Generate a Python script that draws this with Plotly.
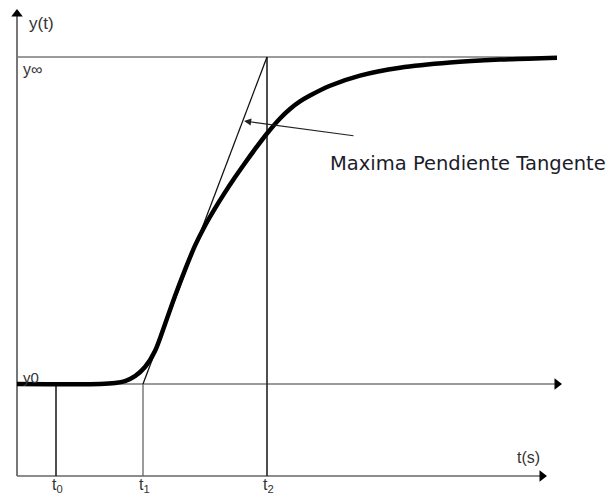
import plotly.graph_objects as go

# ---- data (time axis in drawing units, response normalised: y0 = 0, y_inf = 1)
curve_t = [17, 100, 115, 125, 135, 145, 155, 165, 175, 185, 195, 205, 215, 225,
           235, 245, 255, 267, 280, 290, 300, 310, 330, 360, 400, 450, 500, 557]
curve_y = [0.0, 0.0, 0.003, 0.009, 0.024, 0.052, 0.101, 0.183, 0.269, 0.349,
           0.423, 0.484, 0.537, 0.586, 0.632, 0.676, 0.718, 0.766, 0.812, 0.841,
           0.864, 0.882, 0.912, 0.943, 0.967, 0.983, 0.992, 0.998]
t_marks = {"t0": 56, "t1": 143, "t2": 267}
Y0, YINF = 0.0, 1.0
tick_labels = ["t<sub>0</sub>", "t<sub>1</sub>", "t<sub>2</sub>"]
annotation_text = "Maxima Pendiente Tangente"

# ---- geometry helpers (pixel -> data, layout only)
W, H = 616, 496
PY0, PYINF = 384, 57
def Y(py):
    return (PY0 - py) / (PY0 - PYINF)

X_AXIS = 17
Y_BOTTOM = Y(476)
T0, T1, T2 = t_marks["t0"], t_marks["t1"], t_marks["t2"]

fig = go.Figure()

def line(xs, ys, color, width, dash="solid"):
    fig.add_trace(go.Scatter(x=xs, y=ys, mode="lines",
                             line=dict(color=color, width=width, dash=dash),
                             hoverinfo="skip", showlegend=False))

grey = "#7a7a7a"
# y-axis
line([X_AXIS, X_AXIS], [Y_BOTTOM, Y(12)], "#555555", 1.6)
# bottom time axis
line([X_AXIS, 540], [Y_BOTTOM, Y_BOTTOM], "#666666", 1.6)
# y_inf level
line([X_AXIS, 557], [YINF, YINF], grey, 1.6)
# y0 level (baseline)
line([X_AXIS, 556], [Y0, Y0], grey, 1.6)
# verticals
line([T0, T0], [Y0, Y_BOTTOM], "#222222", 1.6)
line([T1, T1], [Y0, Y_BOTTOM], "#666666", 1.3)
line([T2, T2], [YINF, Y_BOTTOM], "#222222", 1.6)
# tangent
line([T1, T2], [Y0, YINF], "#111111", 1.3)
# response curve
fig.add_trace(go.Scatter(x=curve_t, y=curve_y, mode="lines",
                         line=dict(color="black", width=4.5, shape="spline", smoothing=0.8),
                         hoverinfo="skip", showlegend=False))

# arrow heads of axes
fig.add_trace(go.Scatter(x=[X_AXIS], y=[Y(14)], mode="markers",
                         marker=dict(symbol="triangle-up", size=10, color="black"),
                         hoverinfo="skip", showlegend=False))
fig.add_trace(go.Scatter(x=[542, 557], y=[Y_BOTTOM, Y0], mode="markers",
                         marker=dict(symbol="triangle-right", size=10, color="black"),
                         hoverinfo="skip", showlegend=False))

# pointer arrow
fig.add_annotation(x=244, y=Y(121), ax=355, ay=Y(136), xref="x", yref="y",
                   axref="x", ayref="y", text="", showarrow=True,
                   arrowhead=2, arrowsize=1.3, arrowwidth=1.1, arrowcolor="#222222")

fam = "Liberation Sans, Arial"
fig.add_annotation(x=27, y=Y(23), text="y(t)", showarrow=False, xanchor="left",
                   font=dict(family=fam, size=17, color="#333333"))
fig.add_annotation(x=21, y=Y(69), text="y∞", showarrow=False, xanchor="left",
                   font=dict(family=fam, size=16, color="#333333"))
fig.add_annotation(x=21, y=Y(377), text="y0", showarrow=False, xanchor="left",
                   font=dict(family=fam, size=15, color="#333333"))
for name, lbl in zip(["t0", "t1", "t2"], tick_labels):
    fig.add_annotation(x=t_marks[name] + 1, y=Y(485), text=lbl, showarrow=False,
                       xanchor="center",
                       font=dict(family=fam, size=16, color="#333333"))
fig.add_annotation(x=528, y=Y(457), text="t(s)", showarrow=False,
                   font=dict(family=fam, size=16, color="#333333"))
fig.add_annotation(x=328, y=Y(163), text=annotation_text, showarrow=False,
                   xanchor="left",
                   font=dict(family="DejaVu Sans", size=19.5, color="#1c1c2c"))

fig.update_layout(width=W, height=H, margin=dict(l=0, r=0, t=0, b=0),
                  paper_bgcolor="white", plot_bgcolor="white",
                  xaxis=dict(range=[0, W], visible=False, fixedrange=True),
                  yaxis=dict(range=[Y(H), Y(0)], visible=False, fixedrange=True))
fig.write_html("out.html")
